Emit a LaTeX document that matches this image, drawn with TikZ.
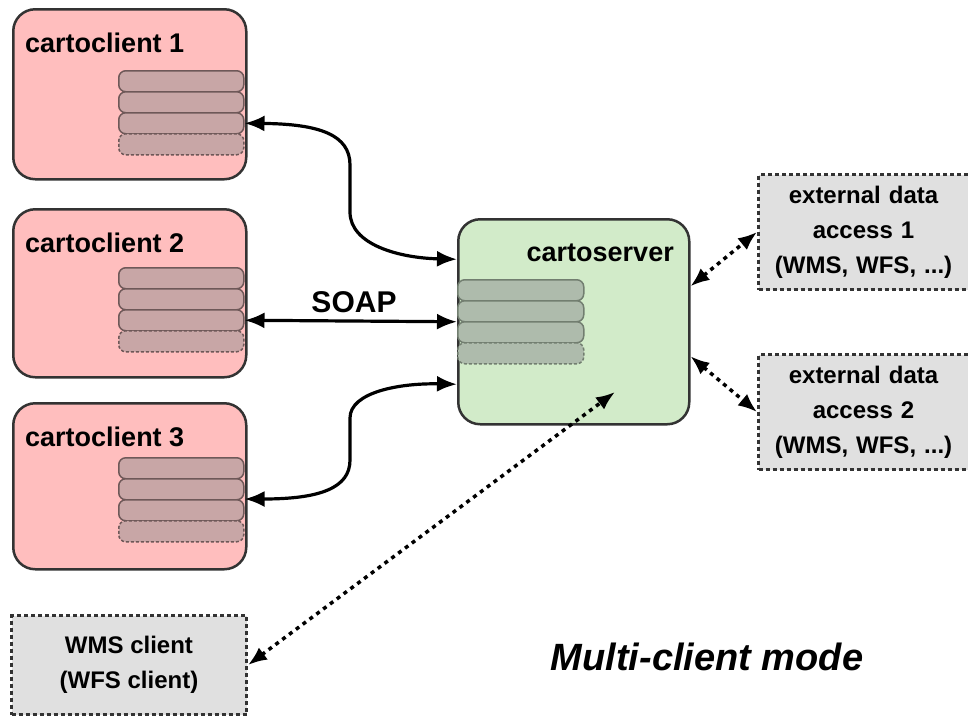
\documentclass[tikz,border=0pt]{standalone}
\usepackage{fontspec}
\setmainfont{Liberation Sans}
\usetikzlibrary{arrows.meta,calc}
\definecolor{clientfill}{HTML}{FFBEBE}
\definecolor{clientrow}{HTML}{C8A6A6}
\definecolor{clientrowline}{HTML}{6E5858}
\definecolor{serverfill}{HTML}{D2EBC9}
\definecolor{serverrow}{HTML}{AEBBAC}
\definecolor{serverrowline}{HTML}{727E70}
\definecolor{extfill}{HTML}{E0E0E0}
\definecolor{boxline}{HTML}{333333}
\begin{document}
\begin{tikzpicture}[x=1pt,y=-1pt,
  clientbox/.style={draw=boxline, line width=2.5pt, fill=clientfill, rounded corners=22pt,
    minimum width=233pt, anchor=north west, inner sep=0pt},
  serverbox/.style={draw=boxline, line width=2.5pt, fill=serverfill, rounded corners=22pt,
    minimum width=231pt, minimum height=205pt, anchor=north west, inner sep=0pt},
  extbox/.style={draw=boxline, line width=3pt, fill=extfill, dash pattern=on 4pt off 3pt,
    anchor=north west, inner sep=0pt, align=center,
    font=\fontsize{24}{35}\selectfont\bfseries},
  crow/.style={draw=clientrowline, line width=1.5pt, fill=clientrow, rounded corners=7pt,
    minimum width=125pt, minimum height=21pt, anchor=north west, inner sep=0pt},
  srow/.style={draw=serverrowline, line width=1.5pt, fill=serverrow, rounded corners=7pt,
    minimum width=126pt, minimum height=21pt, anchor=north west, inner sep=0pt},
  lastrow/.style={dash pattern=on 3pt off 2pt},
  title/.style={anchor=base west, inner sep=0pt, font=\fontsize{27}{30}\selectfont\bfseries},
  conn/.style={line width=3.2pt, {Latex[length=20pt,width=16pt]}-{Latex[length=20pt,width=16pt]}},
  dotconn/.style={line width=3.5pt, dash pattern=on 4pt off 4.5pt,
    {Latex[length=19pt,width=15pt]}-{Latex[length=19pt,width=15pt]}}
]
\useasboundingbox (0,0) rectangle (968,716);

% clients
\node[clientbox, minimum height=170pt] (c1) at (12,8) {};
\node[clientbox, minimum height=168pt] (c2) at (12,208) {};
\node[clientbox, minimum height=166pt] (c3) at (12,402) {};
\node[title] (c1t) at (25,52) {cartoclient 1};
\node[title] (c2t) at (25,252) {cartoclient 2};
\node[title] (c3t) at (25,446) {cartoclient 3};

\node[crow] (c1r1) at (118,70) {};
\node[crow] (c1r2) at (118,91) {};
\node[crow] (c1r3) at (118,112) {};
\node[crow, lastrow] (c1r4) at (118,133) {};

\node[crow] (c2r1) at (118,267) {};
\node[crow] (c2r2) at (118,288) {};
\node[crow] (c2r3) at (118,309) {};
\node[crow, lastrow] (c2r4) at (118,330) {};

\node[crow] (c3r1) at (118,457) {};
\node[crow] (c3r2) at (118,478) {};
\node[crow] (c3r3) at (118,499) {};
\node[crow, lastrow] (c3r4) at (118,520) {};

% server
\node[serverbox] (s) at (457,218) {};
\node[anchor=base east, inner sep=0pt, font=\fontsize{27}{30}\selectfont\bfseries] (st) at (674,261) {cartoserver};
\node[srow] (sr1) at (457,279) {};
\node[srow] (sr2) at (457,300) {};
\node[srow] (sr3) at (457,321) {};
\node[srow, lastrow] (sr4) at (457,342) {};

% external
\node[extbox, minimum width=222pt, minimum height=115pt, text width=210pt] (e1) at (757,173) {\hspace*{-12pt}external data\\\hspace*{-12pt}access 1\\\hspace*{-12pt}(WMS, WFS, ...)};
\node[extbox, minimum width=222pt, minimum height=115pt, text width=210pt] (e2) at (757,353) {\hspace*{-12pt}external data\\\hspace*{-12pt}access 2\\\hspace*{-12pt}(WMS, WFS, ...)};
\node[extbox, minimum width=235pt, minimum height=99pt] (w) at (10,614) {WMS client\\(WFS client)};

% labels
\node[inner sep=0pt, font=\fontsize{30}{32}\selectfont\bfseries] (soap) at (354,302) {SOAP};
\node[inner sep=0pt, font=\fontsize{38}{40}\selectfont\bfseries\itshape] (mode) at (707,657) {Multi-client mode};

% connectors
\draw[conn] (c1r3.east) .. controls (320,124) and (350,135) .. (350,165) -- (350,212)
  .. controls (350,245) and (400,258) .. ([yshift=62.5pt]s.west);
\draw[conn] (c2r3.east) -- (s.west);
\draw[conn] (c3r3.north east) .. controls (320,499) and (350,488) .. (350,460) -- (350,418)
  .. controls (350,392) and (400,383) .. ([yshift=-62.5pt]s.west);

\draw[dotconn] ([yshift=35.5pt]s.east) -- (e1.west);
\draw[dotconn] ([yshift=-34.5pt]s.east) -- (e2.west);
\coordinate (wtip) at (615,392);
\draw[dotconn] (w.east) -- (wtip);
\end{tikzpicture}
\end{document}
